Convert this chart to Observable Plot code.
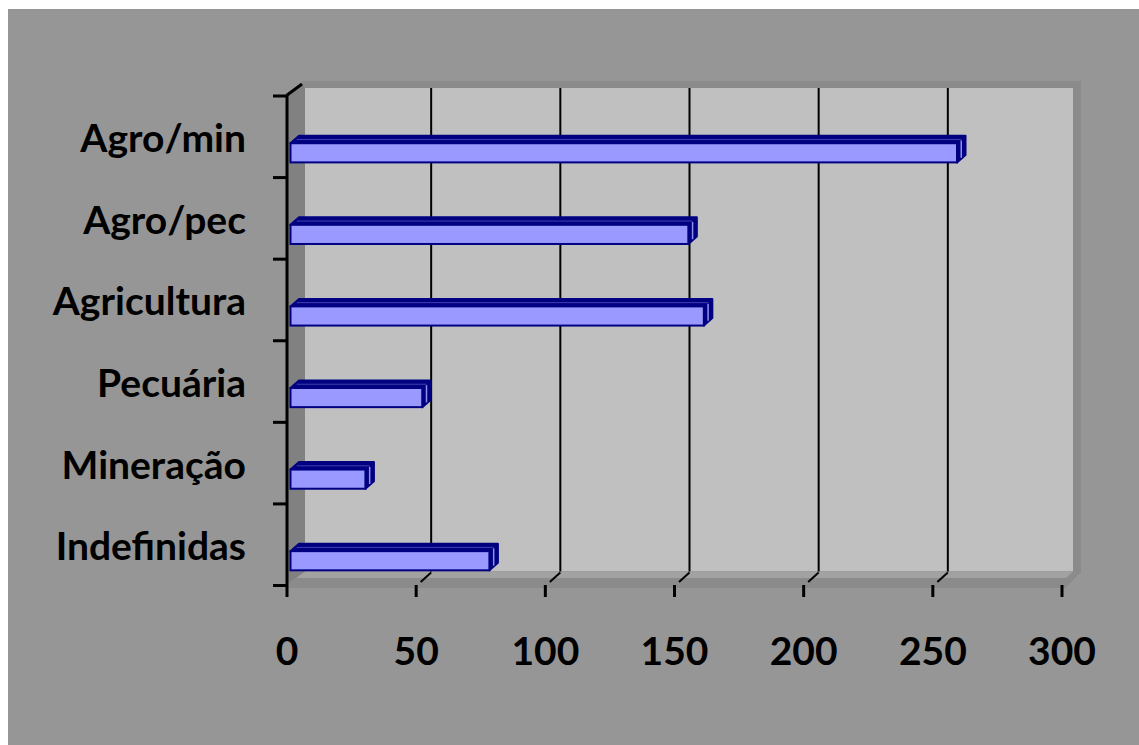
<!DOCTYPE html>
<html>
<head>
<meta charset="utf-8">
<script src="https://cdn.jsdelivr.net/npm/d3@7"></script>
<script src="https://cdn.jsdelivr.net/npm/@observablehq/plot@0.6"></script>
<style>
  html, body { margin: 0; padding: 0; background: #ffffff; }
  #chart { position: absolute; left: 8px; top: 9px; }
</style>
</head>
<body>
<div id="chart"></div>
<script>
// ---- data ----
const categories = ["Indefinidas", "Mineração", "Pecuária", "Agricultura", "Agro/pec", "Agro/min"];
const values = [77, 29, 51, 160, 154, 258];
const xTicks = [0, 50, 100, 150, 200, 250, 300];
const gridValues = [50, 100, 150, 200, 250];

const rows = categories.map((c, i) => ({category: c, value: values[i], row: i}));

// 3D geometry (pixels)
const BX = 15.5, BY = -11.5;   // wall depth
const DX = 8.5, DY = -7.5;     // bar depth
const BAR_SHIFT = 4;           // bar front face sits slightly behind the front plane
const NAVY = "#000080";

function walls(index, scales) {
  const x = scales.x, y = scales.y;
  const X0 = x(0), X3 = x(300), Yb = y(0), Yt = y(categories.length);
  const g = d3.create("svg:g");
  g.append("rect").attr("x", X0 + BX).attr("y", Yt + BY - 3)
    .attr("width", X3 + BX + 4 - (X0 + BX)).attr("height", (Yb + BY) - (Yt + BY - 3))
    .attr("fill", "#8b8b8b");
  g.append("rect").attr("x", X0 + BX + 3).attr("y", Yt + BY + 4)
    .attr("width", (X3 + BX - 4) - (X0 + BX + 3)).attr("height", (Yb + BY - 2) - (Yt + BY + 4))
    .attr("fill", "#c0c0c0");
  g.append("path").attr("d", d3.line()([
      [X0, Yt], [X0 + BX, Yt + BY], [X0 + BX + 3, Yt + BY + 4],
      [X0 + BX + 3, Yb + BY - 2], [X0, Yb]
    ]) + "Z").attr("fill", "#818181");
  g.append("path").attr("d", d3.line()([
      [X0, Yb], [X0 + BX + 3, Yb + BY - 2], [X3 + BX + 4, Yb + BY - 2],
      [X3 + 4, Yb + 3], [X0, Yb + 3]
    ]) + "Z").attr("fill", "#8b8b8b");
  g.append("path").attr("d", d3.line()([
      [X0 + BX + 3, Yb + BY - 2], [X3 + BX - 4, Yb + BY - 2],
      [X3 + BX - 11, Yb - 7], [X0 + 10, Yb - 7]
    ]) + "Z").attr("fill", "#a2a2a2");
  for (const v of gridValues) {
    g.append("line").attr("x1", x(v) + BX).attr("x2", x(v) + BX)
      .attr("y1", Yt + BY + 4).attr("y2", Yb + BY - 2)
      .attr("stroke", "#000").attr("stroke-width", 2);
    g.append("line").attr("x1", x(v) + BX).attr("y1", Yb + BY - 1)
      .attr("x2", x(v) + 5).attr("y2", Yb - 3)
      .attr("stroke", "#000").attr("stroke-width", 2);
  }
  g.append("line").attr("x1", X0).attr("y1", Yt).attr("x2", X0 + BX).attr("y2", Yt + BY)
    .attr("stroke", "#000").attr("stroke-width", 3);
  return g.node();
}

const BAR_LO = 0.18, BAR_HI = 0.415;

function barDepth(index, scales) {
  const x = scales.x, y = scales.y;
  const g = d3.create("svg:g");
  for (const d of rows) {
    const X0 = x(0) + BAR_SHIFT, X1 = x(d.value) + BAR_SHIFT;
    const Yt = y(d.row + BAR_HI), Yb = y(d.row + BAR_LO);
    g.append("path").attr("d", d3.line()([
        [X0, Yt], [X0 + DX, Yt + DY], [X1 + DX, Yt + DY],
        [X1 + DX, Yb + DY], [X1, Yb], [X1, Yt]
      ]) + "Z")
      .attr("fill", NAVY).attr("stroke", NAVY).attr("stroke-width", 2).attr("stroke-linejoin", "round");
    g.append("line").attr("x1", X0 + DX / 2 + 2).attr("y1", Yt + DY / 2)
      .attr("x2", X1 + DX / 2).attr("y2", Yt + DY / 2)
      .attr("stroke", "#4040b0").attr("stroke-width", 1);
    g.append("line").attr("x1", X1 + DX / 2).attr("y1", Yt + DY / 2 + 1)
      .attr("x2", X1 + DX / 2).attr("y2", Yb + DY / 2 - 1)
      .attr("stroke", "#9090f0").attr("stroke-width", 1.5);
  }
  return g.node();
}

const chart = Plot.plot({
  width: 1131,
  height: 736,
  marginLeft: 278.5,
  marginRight: 77.5,
  marginTop: 86.5,
  marginBottom: 160,
  style: {background: "#969696", fontFamily: "Lato, 'Open Sans', sans-serif", color: "#000", overflow: "visible"},
  x: {domain: [0, 300], axis: null, label: null},
  y: {domain: [0, categories.length], axis: null, label: null},
  marks: [
    walls,
    Plot.ruleX([0], {y1: 0, y2: categories.length, stroke: "#000", strokeWidth: 3}),
    Plot.axisY({ticks: d3.range(0, categories.length + 1), tickFormat: () => "", tickSize: 13.5, strokeWidth: 3, stroke: "#000", label: null}),
    Plot.axisX({ticks: xTicks, tickSize: 12, tickFormat: () => "", strokeWidth: 3, stroke: "#000", label: null}),
    Plot.axisX({ticks: xTicks, tickSize: 0, tickPadding: 52, fontSize: 39, fontWeight: "bold", fill: "#000", label: null}),
    Plot.axisY({
      ticks: categories.map((c, i) => i + 0.5),
      tickFormat: d => categories[Math.floor(d)],
      tickSize: 0, tickPadding: 41, fontSize: 39, fontWeight: "bold", fill: "#000", dy: 3, label: null
    }),
    barDepth,
    Plot.rectX(rows, {
      x1: 0, x2: "value",
      y1: d => d.row + BAR_LO, y2: d => d.row + BAR_HI,
      dx: BAR_SHIFT, fill: "#9999ff", stroke: NAVY, strokeWidth: 2
    })
  ]
});
document.getElementById("chart").appendChild(chart);
</script>
</body>
</html>
